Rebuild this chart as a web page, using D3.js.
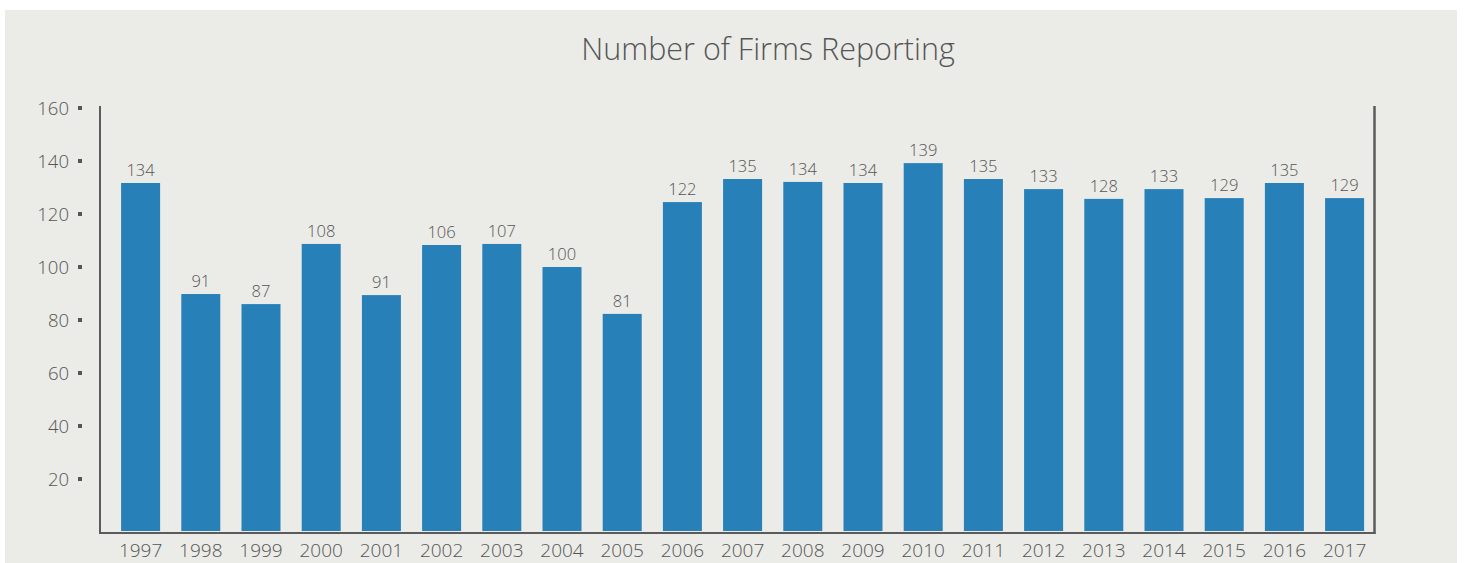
<!doctype html>
<html>
<head>
<style>
body {
	margin: 0;
	background: #fff;
}
text {
	font-family: "Open Sans", "Noto Sans", sans-serif;
	font-weight: 300;
	fill: #555;
}
</style>
<script src="https://d3js.org/d3.v7.min.js"></script>
</head>
<body>
	<svg height=563 width=1464></svg>
	<script>
		var years = ["1997", "1998", "1999", "2000", "2001", "2002", "2003", "2004", "2005", "2006",
			"2007", "2008", "2009", "2010", "2011", "2012", "2013", "2014", "2015", "2016", "2017"];
		// numbers printed above the bars
		var labelValues = [134, 91, 87, 108, 91, 106, 107, 100, 81, 122,
			135, 134, 134, 139, 135, 133, 128, 133, 129, 135, 129];
		// bar heights as drawn (they don't quite agree with the labels)
		var barValues = [131.7, 89.8, 86, 108.7, 89.4, 108.3, 108.7, 100, 82.3, 124.5,
			133.2, 132.1, 131.7, 139.2, 133.2, 129.4, 125.7, 129.4, 126, 131.7, 126];
		var yTicks = [20, 40, 60, 80, 100, 120, 140, 160];

		var svg = d3.select("svg");

		svg.append("rect").attr("x", 5).attr("y", 10).attr("width", 1452)
				.attr("height", 560).attr("fill", "#ebebe7");

		svg.append("text").attr("x", 768).attr("y", 60).attr("text-anchor", "middle")
				.attr("font-size", "30.5px").text("Number of Firms Reporting");

		var x = d3.scaleBand().domain(years).range([110.5, 110.5 + 21 * 60.2])
				.paddingInner(0.3522).paddingOuter(0.1761);
		var y = d3.scaleLinear().domain([0, 160]).range([532, 108]);

		// bars
		svg.selectAll("rect.bar").data(years).enter().append("rect")
				.attr("class", "bar")
				.attr("x", function(d) { return x(d); })
				.attr("width", x.bandwidth())
				.attr("y", function(d, i) { return y(barValues[i]); })
				.attr("height", function(d, i) { return y(0) - 1 - y(barValues[i]); })
				.attr("fill", "#2880b9");

		svg.selectAll("text.val").data(years).enter().append("text")
				.attr("class", "val")
				.attr("x", function(d) { return x(d) + x.bandwidth() / 2; })
				.attr("y", function(d, i) { return y(barValues[i]) - 7; })
				.attr("text-anchor", "middle").attr("font-size", "16.5px")
				.text(function(d, i) { return labelValues[i]; });

		// axis frame
		var axisColor = "#5b5b5b";
		svg.append("line").attr("x1", 100).attr("x2", 100).attr("y1", 106).attr("y2", 534)
				.attr("stroke", axisColor).attr("stroke-width", 2);
		svg.append("line").attr("x1", 1374.5).attr("x2", 1374.5).attr("y1", 106).attr("y2", 534)
				.attr("stroke", axisColor).attr("stroke-width", 2.5);
		svg.append("line").attr("x1", 99).attr("x2", 1375.5).attr("y1", 533).attr("y2", 533)
				.attr("stroke", axisColor).attr("stroke-width", 2);

		// y ticks: little squares instead of lines
		var gy = svg.append("g");
		gy.selectAll("rect").data(yTicks).enter().append("rect")
				.attr("x", 78).attr("y", function(d) { return y(d) - 2; })
				.attr("width", 4).attr("height", 4).attr("fill", "#555");
		gy.selectAll("text").data(yTicks).enter().append("text")
				.attr("x", 69).attr("y", function(d) { return y(d) + 1; })
				.attr("dy", "0.35em").attr("text-anchor", "end").attr("font-size", "18.5px")
				.text(function(d) { return d; });

		// x labels
		var gx = svg.append("g").attr("transform", "translate(0,536)")
				.call(d3.axisBottom(x).tickSize(0).tickPadding(0));
		gx.select(".domain").remove();
		gx.selectAll("text").attr("font-size", "19px").attr("font-family", null)
				.attr("fill", null).attr("dy", null).attr("y", 21);
	</script>
</body>
</html>
